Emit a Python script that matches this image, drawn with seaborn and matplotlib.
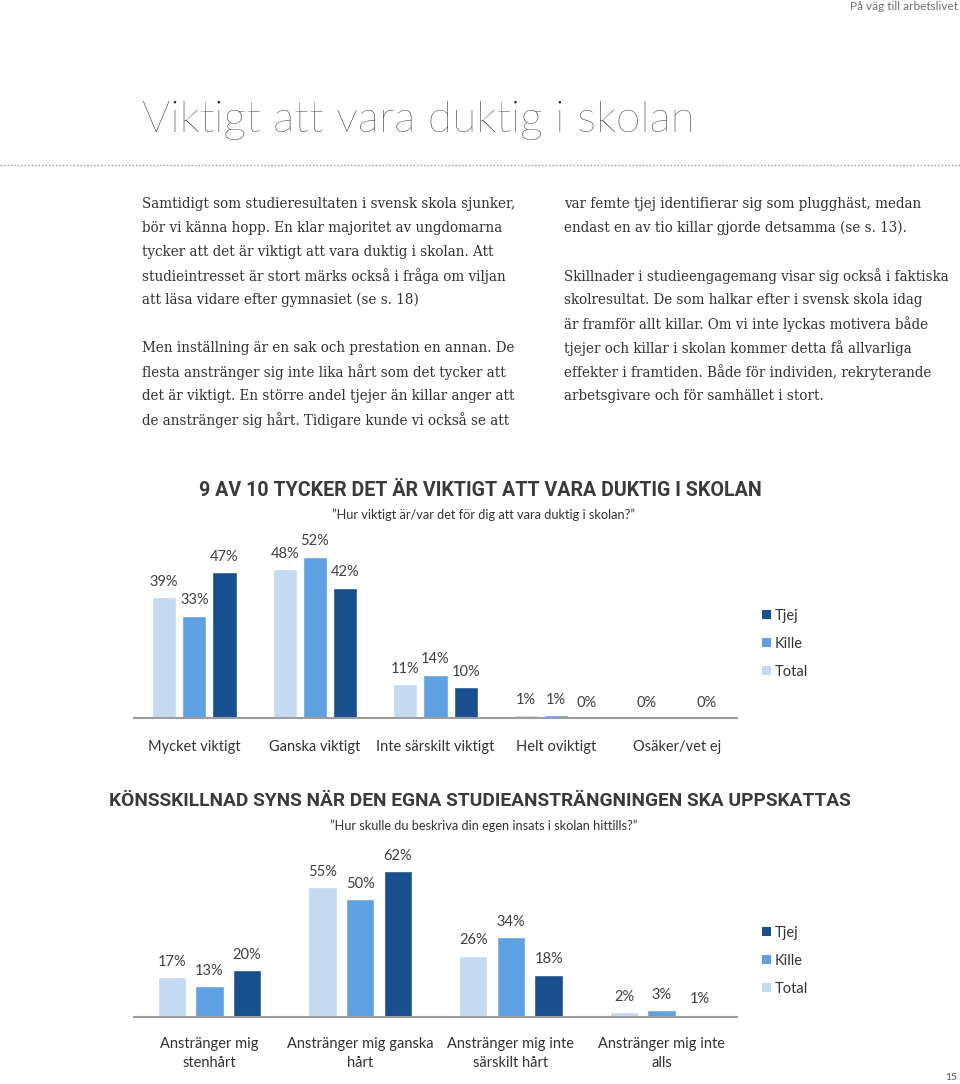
import matplotlib
matplotlib.use("Agg")
import matplotlib.pyplot as plt
from matplotlib import font_manager as fm
from matplotlib.lines import Line2D
from matplotlib.patches import Patch
import seaborn as sns
import pandas as pd

# ---------------- data ----------------
series = ["Total", "Kille", "Tjej"]
legend_order = ["Tjej", "Kille", "Total"]

cats1 = ["Mycket viktigt", "Ganska viktigt", "Inte särskilt viktigt",
         "Helt oviktigt", "Osäker/vet ej"]
total1 = [39, 48, 11, 1, 0]
kille1 = [33, 52, 14, 1, 0]
tjej1 = [47, 42, 10, 0, 0]

cats2 = ["Anstränger mig\nstenhårt", "Anstränger mig ganska\nhårt",
         "Anstränger mig inte\nsärskilt hårt", "Anstränger mig inte\nalls"]
total2 = [17, 55, 26, 2]
kille2 = [13, 50, 34, 3]
tjej2 = [20, 62, 18, 1]

title1 = "9 AV 10 TYCKER DET ÄR VIKTIGT ATT VARA DUKTIG I SKOLAN"
sub1 = "”Hur viktigt är/var det för dig att vara duktig i skolan?”"
title2 = "KÖNSSKILLNAD SYNS NÄR DEN EGNA STUDIEANSTRÄNGNINGEN SKA UPPSKATTAS"
sub2 = "”Hur skulle du beskriva din egen insats i skolan hittills?”"

page_title = "Viktigt att vara duktig i skolan"
header = "På väg till arbetslivet"
page_no = "15"

left_lines = [
    "Samtidigt som studieresultaten i svensk skola sjunker,",
    "bör vi känna hopp. En klar majoritet av ungdomarna",
    "tycker att det är viktigt att vara duktig i skolan. Att",
    "studieintresset är stort märks också i fråga om viljan",
    "att läsa vidare efter gymnasiet (se s. 18)",
    "",
    "Men inställning är en sak och prestation en annan. De",
    "flesta anstränger sig inte lika hårt som det tycker att",
    "det är viktigt. En större andel tjejer än killar anger att",
    "de anstränger sig hårt. Tidigare kunde vi också se att",
]
right_lines = [
    "var femte tjej identifierar sig som plugghäst, medan",
    "endast en av tio killar gjorde detsamma (se s. 13).",
    "",
    "Skillnader i studieengagemang visar sig också i faktiska",
    "skolresultat. De som halkar efter i svensk skola idag",
    "är framför allt killar. Om vi inte lyckas motivera både",
    "tjejer och killar i skolan kommer detta få allvarliga",
    "effekter i framtiden. Både för individen, rekryterande",
    "arbetsgivare och för samhället i stort.",
]

# ---------------- styling ----------------
palette = {"Total": "#c3daf1", "Kille": "#5ea1e2", "Tjej": "#184f8e"}


def pick(names):
    for n in names:
        try:
            fm.findfont(fm.FontProperties(family=n), fallback_to_default=False)
            return n
        except Exception:
            pass
    return "DejaVu Sans"


SANS = pick(["Lato", "Open Sans", "DejaVu Sans"])
SERIF = pick(["DejaVu Serif", "Liberation Serif"])
COND = pick(["Liberation Sans Narrow", "Roboto", "DejaVu Sans"])

sns.set_theme(style="white")
plt.rcParams["font.family"] = [SANS, "DejaVu Sans"]

W, H = 960, 1084
fig = plt.figure(figsize=(W / 100, H / 100), dpi=100)
fig.patch.set_facecolor("white")


def T(x, y, s, **kw):
    return fig.text(x / W, 1 - y / H, s, **kw)


# header / page
T(958, 7, header, ha="right", va="center", fontsize=8.5, color="#6f6f6f",
  family=SANS)
T(957, 1077, page_no, ha="right", va="center", fontsize=7.5, color="#555555",
  family=SANS)
T(142, 120, page_title, ha="left", va="center", fontsize=32, color="#1e1e1e",
  family=SANS, fontweight="light")
fig.add_artist(Line2D([0, 1], [1 - 165 / H, 1 - 165 / H], transform=fig.transFigure,
                      color="#9a9a9a", lw=1, ls=(0, (1, 1.5))))

# body columns
for i, line in enumerate(left_lines):
    if line:
        T(142, 204 + 24 * i, line, ha="left", va="center", fontsize=9.75,
          color="#333333", family=SERIF)
for i, line in enumerate(right_lines):
    if line:
        T(564, 204 + 24 * i, line, ha="left", va="center", fontsize=9.75,
          color="#333333", family=SERIF)

# chart titles
T(480, 490, title1, ha="center", va="center", fontsize=14.1, color="#3a3a3a",
  family=COND, fontweight="bold")
T(484, 515, sub1, ha="center", va="center", fontsize=9.2, color="#333333",
  family=SANS)
T(480, 801, title2, ha="center", va="center", fontsize=13.75, color="#3a3a3a",
  family=COND, fontweight="bold")
T(484, 826, sub2, ha="center", va="center", fontsize=9.2, color="#333333",
  family=SANS)


def make_chart(rect, cats, tot, kil, tje, ymax, gap, hide, pad):
    ax = fig.add_axes(rect)
    df = pd.DataFrame({
        "cat": cats * 3,
        "serie": [s for s in series for _ in cats],
        "val": tot + kil + tje,
    })
    sns.barplot(data=df, x="cat", y="val", hue="serie", hue_order=series,
                palette=palette, width=0.75, gap=gap, saturation=1,
                errorbar=None, legend=False, ax=ax)
    vals = {"Total": tot, "Kille": kil, "Tjej": tje}
    for s, cont in zip(series, ax.containers):
        labels = [("" if (s, j) in hide else f"{v}%") for j, v in enumerate(vals[s])]
        ax.bar_label(cont, labels=labels, padding=6, fontsize=10.5,
                     color="#404040", family=SANS)
    ax.set_ylim(0, ymax)
    ax.set_xlim(-0.5, len(cats) - 0.5)
    for sp in ["top", "left", "right"]:
        ax.spines[sp].set_visible(False)
    ax.spines["bottom"].set_color("#9c9c9c")
    ax.spines["bottom"].set_linewidth(1.5)
    ax.set_yticks([])
    ax.set_xlabel("")
    ax.set_ylabel("")
    ax.tick_params(axis="x", length=0, pad=pad, labelsize=10.5, colors="#333333")
    for t in ax.get_xticklabels():
        t.set_family(SANS)
        t.set_linespacing(1.45)
    ax.set_facecolor("none")
    return ax


ax1 = make_chart([134 / W, (H - 718) / H, 603 / W, 186 / H],
                 cats1, total1, kille1, tjej1, 60, 0.2, {("Kille", 4)}, 16)
ax2 = make_chart([134 / W, (H - 1017) / H, 603 / W, 165 / H],
                 cats2, total2, kille2, tjej2, 70, 0.25, set(), 14.5)

handles = [Patch(facecolor=palette[s], edgecolor="none", label=s) for s in legend_order]
for top in (609, 926):
    fig.legend(handles=handles, loc="upper left",
               bbox_to_anchor=(762 / W, 1 - top / H), bbox_transform=fig.transFigure,
               frameon=False, handlelength=0.6, handleheight=0.6, handletextpad=0.3,
               labelspacing=0.96, borderpad=0, borderaxespad=0,
               prop={"family": SANS, "size": 10.5}, labelcolor="#333333")

fig.savefig("out.png", dpi=100, facecolor="white")
